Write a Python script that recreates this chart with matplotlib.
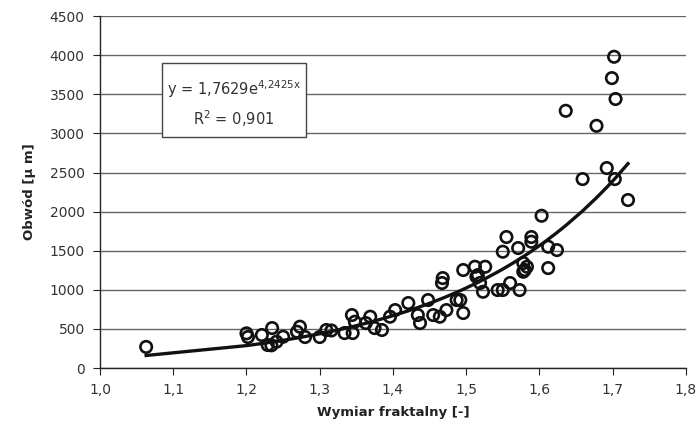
import numpy as np
import matplotlib
matplotlib.use("Agg")
import matplotlib.pyplot as plt
from matplotlib.patches import Rectangle

plt.rcParams["font.family"] = ["DejaVu Sans"]
plt.rcParams["mathtext.fontset"] = "dejavusans"

# data
fractal_dim = [
    1.063, 1.200, 1.202, 1.221, 1.229, 1.234, 1.235, 1.241, 1.250, 1.269,
    1.273, 1.280, 1.300, 1.309, 1.316, 1.334, 1.344, 1.345, 1.348, 1.363,
    1.369, 1.375, 1.385, 1.396, 1.403, 1.421, 1.434, 1.437, 1.448, 1.455,
    1.464, 1.467, 1.468, 1.473, 1.487, 1.492, 1.496, 1.496, 1.512, 1.514,
    1.516, 1.519, 1.523, 1.526, 1.543, 1.550, 1.550, 1.555, 1.560, 1.571,
    1.573, 1.578, 1.578, 1.580, 1.583, 1.589, 1.589, 1.603, 1.612, 1.612,
    1.624, 1.636, 1.659, 1.678, 1.692, 1.699, 1.702, 1.703, 1.704, 1.721,
]
perimeter = [
    270, 443, 396, 422, 294, 290, 511, 336, 400, 464,
    528, 396, 396, 486, 480, 447, 677, 447, 592, 575,
    656, 511, 486, 656, 741, 831, 677, 575, 869, 677,
    656, 1087, 1150, 741, 869, 869, 1253, 703, 1295, 1167,
    1189, 1087, 975, 1295, 997, 1487, 997, 1675, 1087, 1534,
    997, 1342, 1231, 1253, 1295, 1675, 1615, 1947, 1551, 1278,
    1508, 3289, 2416, 3097, 2557, 3707, 3980, 2416, 3440, 2148,
]
x_ticks = [1.0, 1.1, 1.2, 1.3, 1.4, 1.5, 1.6, 1.7, 1.8]
y_ticks = [0, 500, 1000, 1500, 2000, 2500, 3000, 3500, 4000, 4500]

# exponential trend from the chart's equation
fit_a, fit_b = 1.7629, 4.2425
x_sorted = np.sort(np.array(fractal_dim))
trend = fit_a * np.exp(fit_b * x_sorted)

fig = plt.figure(figsize=(6.97, 4.41), dpi=100)
ax = fig.add_axes([0.1435, 0.1655, 0.8405, 0.798])

ax.set_xlim(1.0, 1.8)
ax.set_ylim(0, 4500)
ax.set_xticks(x_ticks)
ax.set_yticks(y_ticks)
ax.set_xticklabels([f"{t:.1f}".replace(".", ",") for t in x_ticks])
ax.set_yticklabels([str(t) for t in y_ticks])
ax.tick_params(direction="out", length=5, labelsize=10, labelcolor="#333333",
               color="#222222")
ax.tick_params(axis="y", pad=6)
ax.tick_params(axis="x", pad=6)

ax.grid(axis="y", color="#666666", linewidth=1)
ax.set_axisbelow(True)
for s in ["top", "right"]:
    ax.spines[s].set_visible(False)
for s in ["left", "bottom"]:
    ax.spines[s].set_color("#222222")
    ax.spines[s].set_linewidth(1)

ax.scatter(fractal_dim, perimeter, s=68, facecolors="none",
           edgecolors="#111111", linewidths=1.9, zorder=3)
ax.plot(x_sorted, trend, color="#111111", linewidth=2.4, zorder=4)

box = Rectangle((0.1058, 0.656), 0.2457, 0.2105, transform=ax.transAxes,
                facecolor="white", edgecolor="#444444", linewidth=1, zorder=5)
ax.add_patch(box)
ax.text(0.2287, 0.793, r"y = 1,7629e$^{\mathregular{4{,}2425x}}$",
        transform=ax.transAxes, ha="center", va="center", fontsize=10.5,
        color="#333333", zorder=6)
ax.text(0.2287, 0.708, r"R$^{\mathregular{2}}$ = 0,901",
        transform=ax.transAxes, ha="center", va="center", fontsize=10.5,
        color="#333333", zorder=6)

ax.set_xlabel("Wymiar fraktalny [-]", fontsize=9.5, fontweight="bold",
              color="#222222", labelpad=6)
ax.set_ylabel("Obwód [μ m]", fontsize=9.5, fontweight="bold",
              color="#222222", labelpad=10)

fig.savefig("out.png", dpi=100)
